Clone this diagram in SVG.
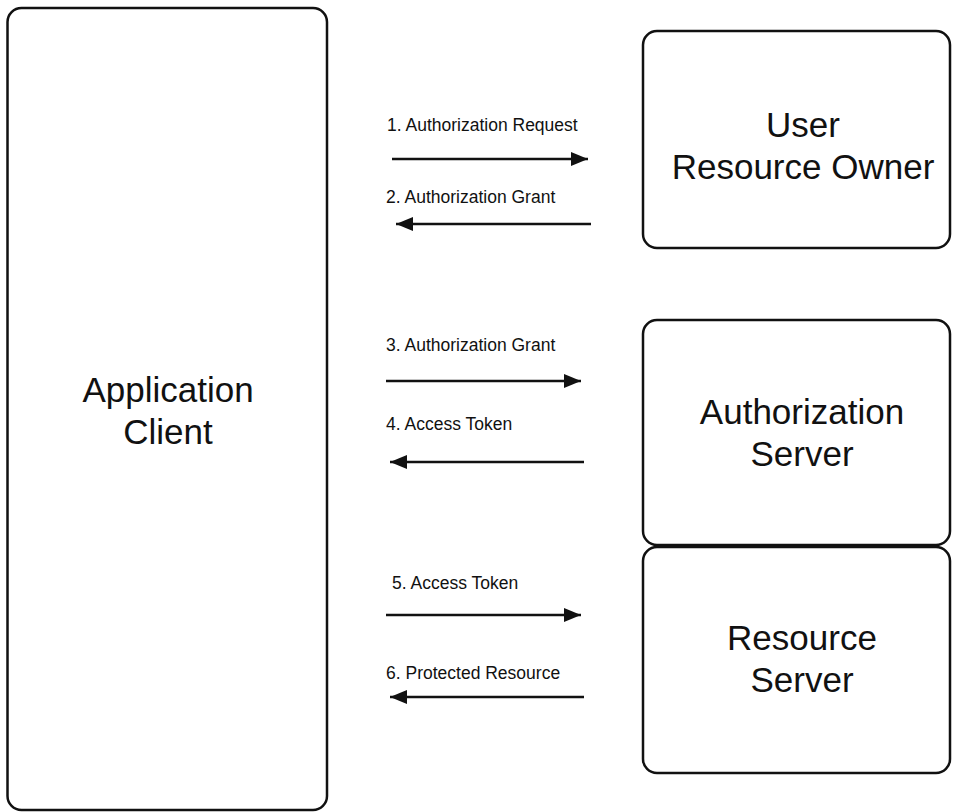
<svg xmlns="http://www.w3.org/2000/svg" width="953" height="812" viewBox="0 0 953 812">
<style>
.box{fill:#fff;stroke:#111;stroke-width:2.5}
.big{font-family:"Liberation Sans",Arial,sans-serif;font-size:35px;fill:#111;text-anchor:middle}
.lbl{font-family:"Liberation Sans",Arial,sans-serif;font-size:17.5px;fill:#111}
.arr{stroke:#111;stroke-width:2.5;fill:none;marker-end:url(#ah)}
</style>
<defs>
<marker id="ah" markerUnits="userSpaceOnUse" markerWidth="18" markerHeight="14" refX="17" refY="7" orient="auto">
<path d="M0,0 L17,7 L0,14 Z" fill="#111"/>
</marker>
</defs>
<rect width="953" height="812" fill="#fff"/>
<g id="client">
<rect class="box" x="7.5" y="8" width="319.5" height="802" rx="14"/>
<text class="big" x="168" y="402">Application</text>
<text class="big" x="168" y="444">Client</text>
</g>
<g id="owner">
<rect class="box" x="643" y="31" width="307" height="217" rx="14"/>
<text class="big" x="803" y="137">User</text>
<text class="big" x="803" y="179">Resource Owner</text>
</g>
<g id="authserver">
<rect class="box" x="643" y="320" width="307" height="225" rx="14"/>
<text class="big" x="802" y="424">Authorization</text>
<text class="big" x="802" y="466">Server</text>
</g>
<g id="resserver">
<rect class="box" x="643" y="547" width="307" height="226" rx="14"/>
<text class="big" x="802" y="650">Resource</text>
<text class="big" x="802" y="692">Server</text>
</g>
<g id="connectors">
<path class="arr" d="M392,159 H588"/>
<path class="arr" d="M591,224 H396"/>
<path class="arr" d="M386,381 H581"/>
<path class="arr" d="M584,462 H390"/>
<path class="arr" d="M386,615 H581"/>
<path class="arr" d="M584,697 H390"/>
<text class="lbl" x="387" y="131">1. Authorization Request</text>
<text class="lbl" x="386" y="203">2. Authorization Grant</text>
<text class="lbl" x="386" y="351">3. Authorization Grant</text>
<text class="lbl" x="386" y="430">4. Access Token</text>
<text class="lbl" x="392" y="589">5. Access Token</text>
<text class="lbl" x="386" y="679">6. Protected Resource</text>
</g>
</svg>
